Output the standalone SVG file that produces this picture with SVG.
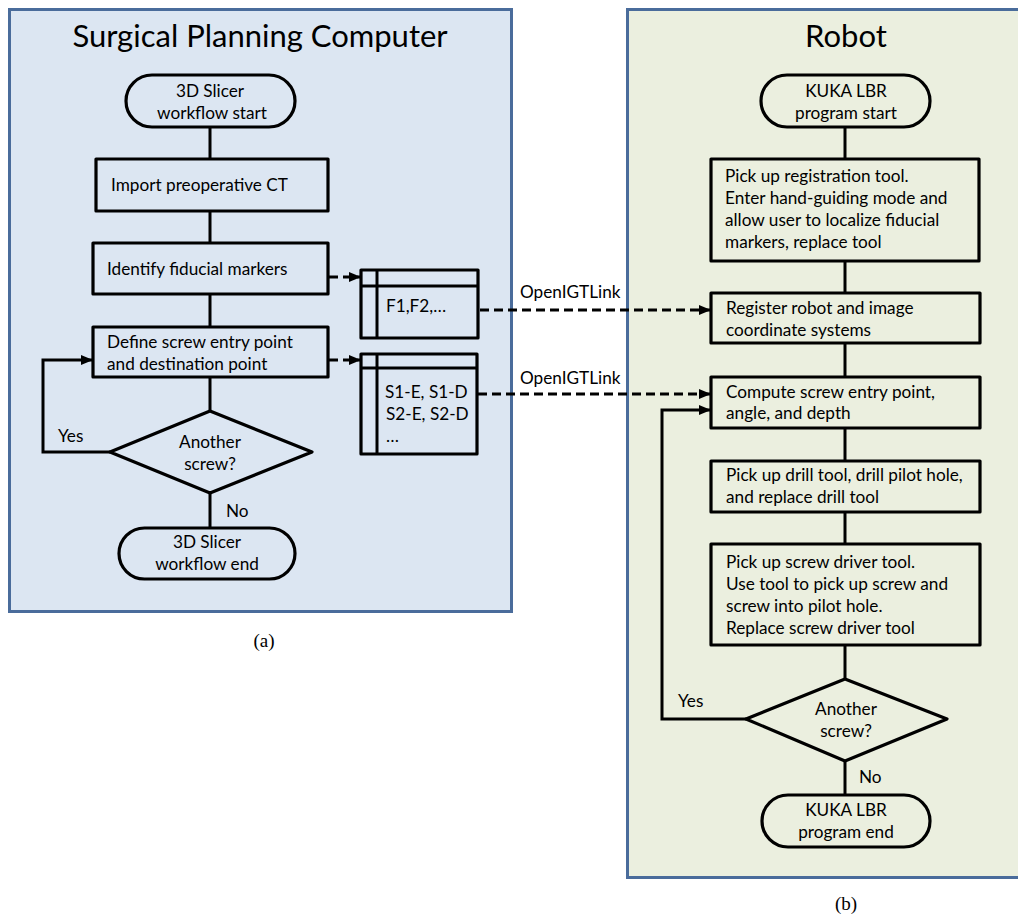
<svg xmlns="http://www.w3.org/2000/svg" width="1018" height="920" viewBox="0 0 1018 920">
<style>
.panel{stroke:#4a6c9b;stroke-width:3}
.box{fill:none;stroke:#000;stroke-width:3.2;stroke-linejoin:round}
.t{font-family:Lato,"Open Sans",sans-serif;font-size:17.2px;fill:#000}
.c{text-anchor:middle}
.title{font-family:Lato,"Open Sans",sans-serif;font-size:31px;fill:#000;text-anchor:middle}
.cap{font-family:"Liberation Serif",serif;font-size:19px;fill:#000;text-anchor:middle}
.ln{fill:none;stroke:#000;stroke-width:3}
.dash{fill:none;stroke:#000;stroke-width:3;stroke-dasharray:9,5}
</style>
<defs>
<marker id="ah" markerUnits="userSpaceOnUse" markerWidth="12" markerHeight="12" viewBox="0 0 12 12" refX="11" refY="6" orient="auto">
<path d="M0,1 L12,6 L0,11 Z" fill="#000"/>
</marker>
</defs>
<rect x="0" y="0" width="1018" height="920" fill="#fff"/>
<g id="panel-left">
<rect class="panel" x="9.5" y="9.5" width="502" height="602" fill="#dce6f2"/>
<text class="title" x="260" y="47">Surgical Planning Computer</text>
</g>
<g id="panel-right">
<rect class="panel" x="627.5" y="9.5" width="400" height="868" fill="#ebefdf"/>
<text class="title" x="846" y="47">Robot</text>
</g>
<text class="cap" x="264" y="647">(a)</text>
<text class="cap" x="846" y="910">(b)</text>

<g id="connectors">
<line class="ln" x1="210" y1="127" x2="210" y2="159"/>
<line class="ln" x1="210" y1="211" x2="210" y2="243"/>
<line class="ln" x1="210" y1="294" x2="210" y2="327"/>
<line class="ln" x1="210" y1="377" x2="210" y2="411"/>
<line class="ln" x1="210" y1="493" x2="210" y2="528"/>
<polyline class="ln" points="110,452 43,452 43,360 92,360" marker-end="url(#ah)"/>
<text class="t" x="58" y="442">Yes</text>
<text class="t" x="226" y="517">No</text>
<line class="dash" x1="329" y1="277" x2="360" y2="277" marker-end="url(#ah)"/>
<line class="dash" x1="329" y1="360" x2="360" y2="360" marker-end="url(#ah)"/>
<line class="dash" x1="480" y1="310" x2="710" y2="310" marker-end="url(#ah)"/>
<text class="t" x="520" y="298">OpenIGTLink</text>
<line class="dash" x1="478" y1="394" x2="710" y2="394" marker-end="url(#ah)"/>
<text class="t" x="520" y="384">OpenIGTLink</text>
<line class="ln" x1="845" y1="127" x2="845" y2="159"/>
<line class="ln" x1="845" y1="261" x2="845" y2="293"/>
<line class="ln" x1="845" y1="343" x2="845" y2="377"/>
<line class="ln" x1="845" y1="428" x2="845" y2="461"/>
<line class="ln" x1="845" y1="512" x2="845" y2="544"/>
<line class="ln" x1="845" y1="645" x2="845" y2="679"/>
<line class="ln" x1="845" y1="761" x2="845" y2="795"/>
<polyline class="ln" points="746,719 662,719 662,410 710,410" marker-end="url(#ah)"/>
<text class="t" x="678" y="707">Yes</text>
<text class="t" x="859" y="783">No</text>
</g>

<g id="slicer-start">
<rect class="box" x="126" y="75" width="169" height="52" rx="26"/>
<text class="t c" x="210" y="97">3D Slicer</text>
<text class="t c" x="212" y="119">workflow start</text>
</g>
<g id="import-ct">
<rect class="box" x="96" y="159" width="232" height="52"/>
<text class="t" x="111" y="191">Import preoperative CT</text>
</g>
<g id="identify-fiducials">
<rect class="box" x="93" y="243" width="235" height="51"/>
<text class="t" x="107" y="275">Identify fiducial markers</text>
</g>
<g id="define-screw">
<rect class="box" x="93" y="327" width="235" height="50"/>
<text class="t" x="107" y="348">Define screw entry point</text>
<text class="t" x="107" y="370">and destination point</text>
</g>
<g id="another-screw-left">
<polygon class="box" points="210,411 312,452 210,493 110,452"/>
<text class="t c" x="210" y="448">Another</text>
<text class="t c" x="210" y="470">screw?</text>
</g>
<g id="slicer-end">
<rect class="box" x="119" y="528" width="176" height="51" rx="25.5"/>
<text class="t c" x="207" y="548">3D Slicer</text>
<text class="t c" x="207" y="570">workflow end</text>
</g>
<g id="fiducial-data">
<rect class="box" x="361" y="270" width="117" height="68"/>
<line class="ln" x1="361" y1="286" x2="478" y2="286"/>
<line class="ln" x1="377" y1="270" x2="377" y2="338"/>
<text class="t" x="386" y="312">F1,F2,…</text>
</g>
<g id="screw-data">
<rect class="box" x="361" y="354" width="116" height="100"/>
<line class="ln" x1="361" y1="368" x2="477" y2="368"/>
<line class="ln" x1="377" y1="354" x2="377" y2="454"/>
<text class="t" x="385" y="398">S1-E, S1-D</text>
<text class="t" x="386" y="420">S2-E, S2-D</text>
<text class="t" x="386" y="442">…</text>
</g>

<g id="kuka-start">
<rect class="box" x="761" y="75" width="169" height="52" rx="26"/>
<text class="t c" x="846" y="97">KUKA LBR</text>
<text class="t c" x="846" y="119">program start</text>
</g>
<g id="registration-tool">
<rect class="box" x="711" y="159" width="268" height="102"/>
<text class="t" x="725" y="182">Pick up registration tool.</text>
<text class="t" x="725" y="204">Enter hand-guiding mode and</text>
<text class="t" x="725" y="226">allow user to localize fiducial</text>
<text class="t" x="725" y="248">markers, replace tool</text>
</g>
<g id="register-robot">
<rect class="box" x="711" y="293" width="269" height="50"/>
<text class="t" x="726" y="314">Register robot and image</text>
<text class="t" x="726" y="336">coordinate systems</text>
</g>
<g id="compute-screw">
<rect class="box" x="711" y="377" width="269" height="51"/>
<text class="t" x="726" y="398">Compute screw entry point,</text>
<text class="t" x="726" y="419">angle, and depth</text>
</g>
<g id="drill">
<rect class="box" x="711" y="461" width="269" height="51"/>
<text class="t" x="726" y="481">Pick up drill tool, drill pilot hole,</text>
<text class="t" x="726" y="503">and replace drill tool</text>
</g>
<g id="screw-driver">
<rect class="box" x="711" y="544" width="269" height="101"/>
<text class="t" x="726" y="568">Pick up screw driver tool.</text>
<text class="t" x="726" y="590">Use tool to pick up screw and</text>
<text class="t" x="726" y="612">screw into pilot hole.</text>
<text class="t" x="726" y="634">Replace screw driver tool</text>
</g>
<g id="another-screw-right">
<polygon class="box" points="845,679 947,719 845,761 746,719"/>
<text class="t c" x="846" y="715">Another</text>
<text class="t c" x="846" y="737">screw?</text>
</g>
<g id="kuka-end">
<rect class="box" x="762" y="795" width="168" height="52" rx="26"/>
<text class="t c" x="846" y="816">KUKA LBR</text>
<text class="t c" x="846" y="838">program end</text>
</g>
</svg>
